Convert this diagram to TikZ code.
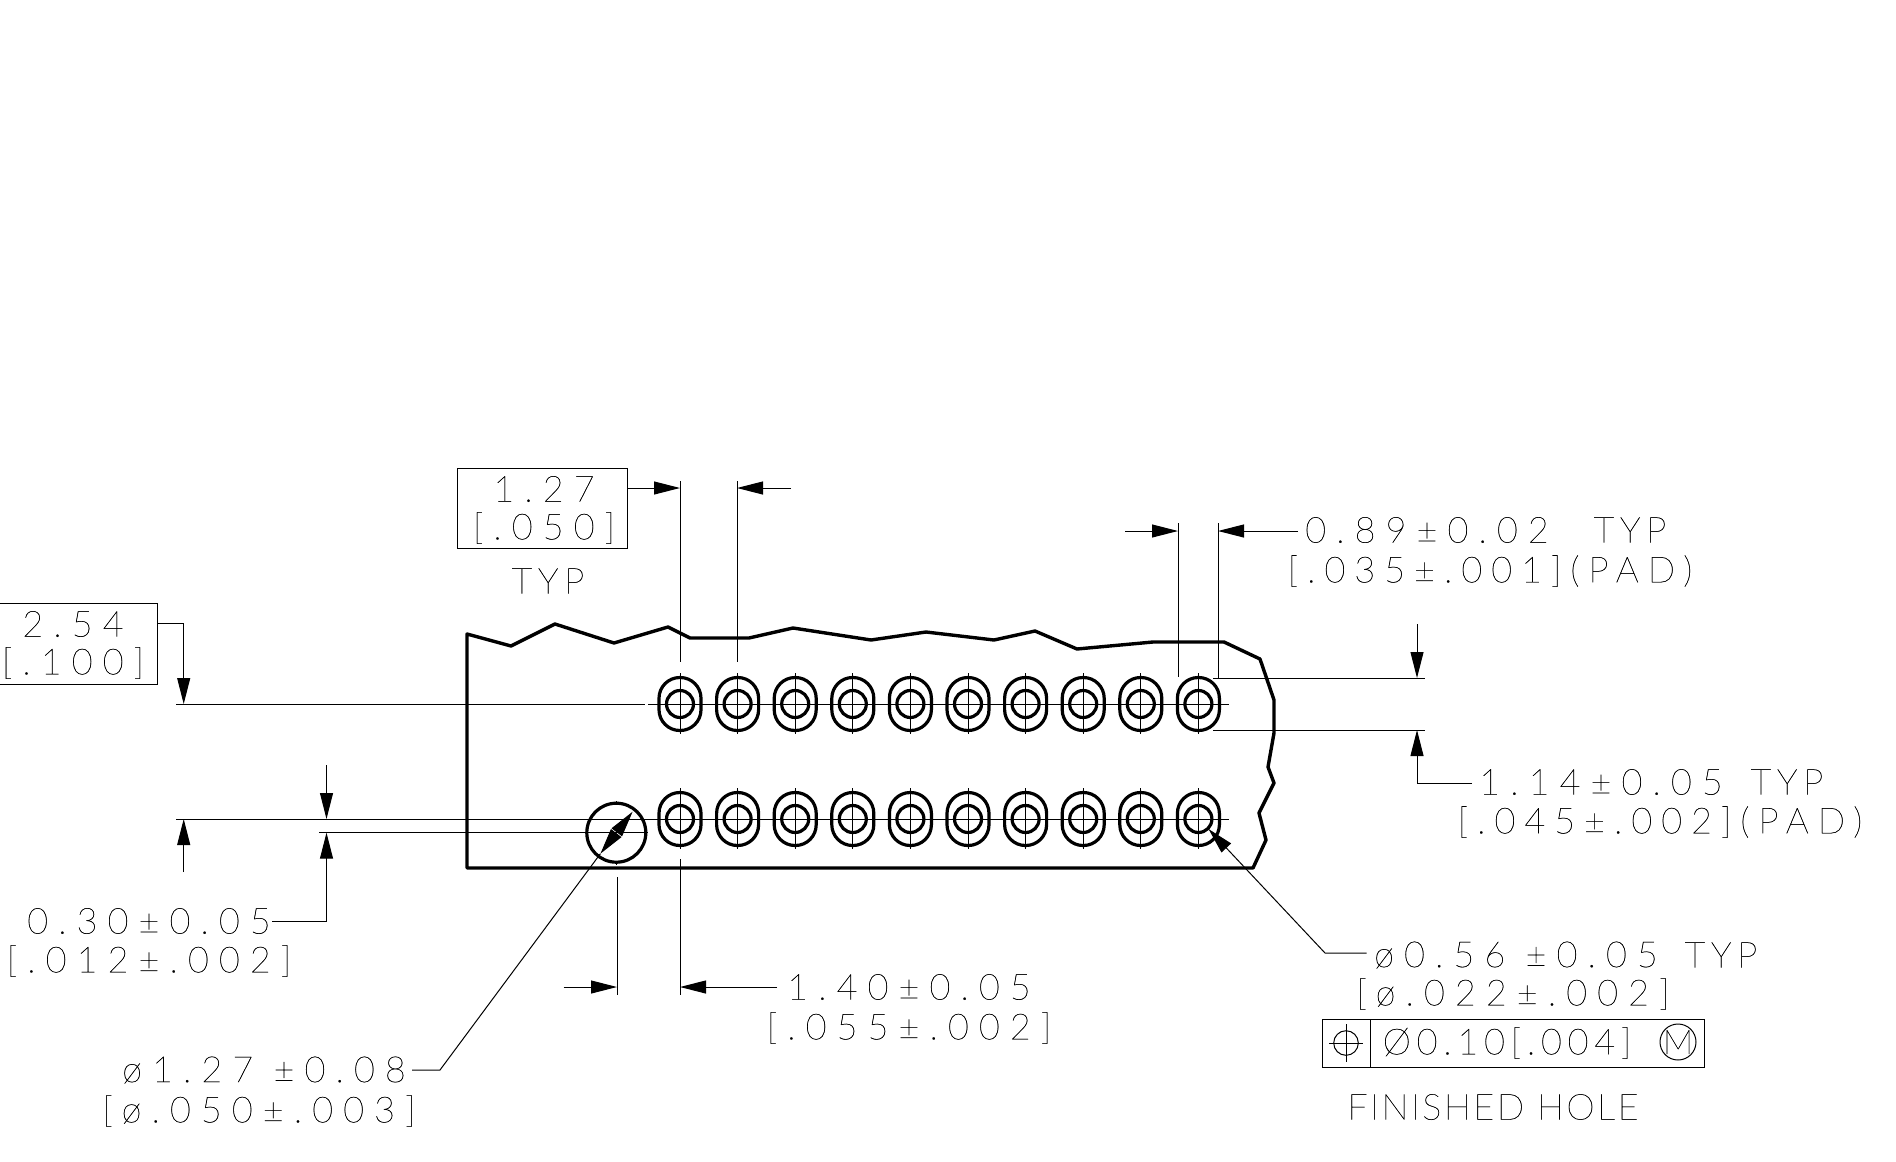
\documentclass[tikz,border=0pt]{standalone}
\usepackage{fontspec}
\newfontfamily\dimfont[LetterSpace=28,FakeBold=0.6]{Lato Thin}
\newfontfamily\padfont[LetterSpace=25,FakeBold=0.6]{Lato Thin}
\newfontfamily\framefont[LetterSpace=16,FakeBold=0.6]{Lato Thin}
\newfontfamily\notefont[LetterSpace=7,FakeBold=0.6]{Lato Thin}
\usetikzlibrary{arrows.meta}
\tikzset{%
  every pad/.style={
    draw,
    rectangle,
    rounded corners=10.4pt,
    line width=1.6pt,
    inner sep=0pt,
    minimum width=21pt,
    minimum height=26.5pt
  },
  every hole/.style={
    draw,
    circle,
    line width=1.6pt,
    inner sep=0pt,
    minimum size=13.5pt
  },
  dim label/.style={
    font=\dimfont\fontsize{18}{19.5}\selectfont,
    inner sep=0pt,
    align=center
  },
  pad label/.style={
    dim label,
    font=\padfont\fontsize{18}{19.5}\selectfont
  },
  typ label/.style={
    dim label,
    font=\framefont\fontsize{18}{19.5}\selectfont
  },
  dim box/.style={
    draw,
    inner sep=0pt,
    line width=0.5pt
  },
  thin line/.style={line width=0.5pt},
  board line/.style={line width=1.7pt, line join=round},
}

\begin{document}
\begin{tikzpicture}[x=0.5pt, y=-0.5pt, >={Triangle[length=13pt,width=6.5pt]}, thin line]

\useasboundingbox (0,0) rectangle (1896,1162);

% board outline
\draw [board line] (467,868) -- (467,634) -- (511,646) -- (555,624) -- (614,643)
  -- (668,627) -- (690,638) -- (749,638) -- (793,628) -- (871,640) -- (926,632)
  -- (994,640) -- (1035,631) -- (1077,649) -- (1153,642) -- (1224,642)
  -- (1260,659) -- (1274,700) -- (1274,733) -- (1268,767) -- (1274,783)
  -- (1259,813) -- (1266,840) -- (1253,868) -- cycle;

% pads
\foreach \i in {0,...,9} {
  \node [every pad] (pad-top-\i) at (680+57.6*\i,704) {};
  \node [every hole] (hole-top-\i) at (pad-top-\i) {};
  \draw (680+57.6*\i,673) -- (680+57.6*\i,734);
  \node [every pad] (pad-bottom-\i) at (680+57.6*\i,819) {};
  \node [every hole] (hole-bottom-\i) at (pad-bottom-\i) {};
  \draw (680+57.6*\i,788) -- (680+57.6*\i,849);
}

% mounting hole
\node [draw, circle, line width=1.6pt, inner sep=0pt, minimum size=29.5pt] (mount) at (616.3,832.7) {};
\draw (mount.north) -- ++(0,-1) (mount.south) -- ++(0,1);
\coordinate (mount-tip-a) at (632.6,811.7);
\coordinate (mount-tip-b) at (600.4,853.7);
\draw [<->] (mount-tip-a) -- (mount-tip-b);

% centre lines
\coordinate (datum-top) at (176,704);
\coordinate (datum-bottom) at (176,819);
\coordinate (datum-mount) at (319,832.7);
\draw (datum-top) -- (645,704);
\draw (648,704) -- (1229,704);
\draw (datum-bottom) -- (1229,819);
\draw (datum-mount) -- (648,832.7);

% 1.27 pitch
\node [dim box, minimum width=85pt, minimum height=40pt] (pitch) at (542,508.5) {};
\node [dim label] (pitch-mm) at (544,489) {1.27};
\node [dim label] (pitch-in) at (544,528) {[.050]};
\node [typ label] (pitch-typ) at (548,581) {TYP};
\draw (680,481) -- (680,662);
\draw (737,481) -- (737,662);
\draw [->] (pitch.east |- 0,488) -- (680,488);
\draw [->] (791,488) -- (737,488);

% 2.54 row spacing
\node [dim box, minimum width=80pt, minimum height=40.5pt] (row) at (77.7,643.5) {};
\node [dim label] (row-mm) at (73,624) {2.54};
\node [dim label] (row-in) at (73,663) {[.100]};
\draw [->] (row.east |- 0,623) -- (183.7,623) -- (183.7,704);
\draw [->] (183.7,872) -- (183.7,819);

% 0.30
\node [dim label] (edge-mm) at (149,921) {0.30±0.05};
\node [dim label] (edge-in) at (149,961) {[.012±.002]};
\draw [->] (326.5,765) -- (326.5,819);
\draw [->] (272,921) -- (326.5,921) -- (326.5,832.7);

% mount diameter
\node [dim label] (mount-mm) at (264,1070) {ø1.27 ±0.08};
\node [dim label] (mount-in) at (259,1111) {[ø.050±.003]};
\draw (412,1070) -- (440,1070) -- (mount-tip-b);

% 1.40
\node [dim label] (offset-mm) at (909,987) {1.40±0.05};
\node [dim label] (offset-in) at (909,1028) {[.055±.002]};
\draw (617,877) -- (617,995);
\draw (680,859) -- (680,995);
\draw [->] (563.5,987) -- (617,987);
\draw [->] (777,987) -- (680,987);

% 0.89 pad
\node [dim label] (padw-mm) at (1427,530) {0.89±0.02};
\node [typ label] (padw-typ) at (1630,530) {TYP};
\node [pad label] (padw-in) at (1490,571) {[.035±.001](PAD)};
\draw (1178,523) -- (1178,677);
\draw (1218,523) -- (1218,678);
\draw [->] (1125,531) -- (1178,531);
\draw [->] (1298,531) -- (1218,531);

% 1.14 pad
\node [dim label] (padh-mm) at (1601,782) {1.14±0.05};
\node [typ label] (padh-typ) at (1787,782) {TYP};
\node [pad label] (padh-in) at (1660,822) {[.045±.002](PAD)};
\draw (1213,678) -- (1425,678);
\draw (1213,730) -- (1425,730);
\draw [->] (1417,624) -- (1417,678);
\draw [->] (1472,783) -- (1417,783) -- (1417,730);

% finished hole
\node [dim label] (hole-mm) at (1516,955) {ø0.56 ±0.05};
\node [typ label] (hole-typ) at (1721,955) {TYP};
\node [dim label] (hole-in) at (1513,994) {[ø.022±.002]};
\coordinate (hole-tip) at (1208.5,829);
\draw [->] (1366.5,953) -- (1325,953) -- (hole-tip);

% feature control frame
\node [dim box, minimum width=191pt, minimum height=24pt] (frame) at (1513,1043) {};
\draw (1370,1019) -- (1370,1067);
\node [draw, circle, inner sep=0pt, minimum size=12.3pt] (position) at (1346,1043) {};
\draw (1329,1043) -- (1363,1043) (1346,1024) -- (1346,1062);
\node [dim label, font=\framefont\fontsize{18}{18}\selectfont] (frame-text) at (1507,1043) {Ø0.10[.004]};
\node [draw, circle, inner sep=0pt, minimum size=18pt] (modifier) at (1678,1042) {};
\node [dim label, font=\notefont\fontsize{17}{17}\selectfont] (modifier-text) at (1678,1042) {M};
\node [dim label, font=\notefont\fontsize{18}{18}\selectfont] (hole-note) at (1493,1107) {FINISHED HOLE};

\end{tikzpicture}
\end{document}
